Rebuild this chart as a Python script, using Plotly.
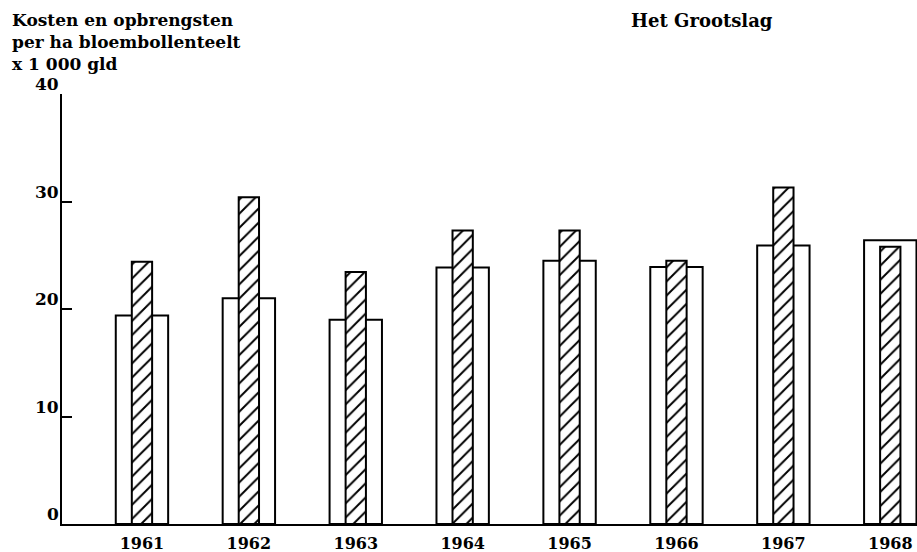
import plotly.graph_objects as go

years = ["1961", "1962", "1963", "1964", "1965", "1966", "1967", "1968"]
kosten = [19.4, 21.0, 19.0, 23.85, 24.5, 23.9, 25.9, 26.4]
opbrengsten = [24.4, 30.4, 23.45, 27.3, 27.3, 24.5, 31.3, 25.8]
y_ticks = [0, 10, 20, 30, 40]

FONT = "DejaVu Serif"
W, H = 917, 552
ML, MR, MT, MB = 62, 0, 94, 28

fig = go.Figure()
fig.add_trace(go.Bar(
    x=years, y=kosten, width=0.49, name="Kosten",
    marker=dict(color="white", line=dict(color="black", width=2)),
))
fig.add_trace(go.Bar(
    x=years, y=opbrengsten, width=0.19, name="Opbrengsten",
    marker=dict(color="white", line=dict(color="black", width=2),
                pattern=dict(shape="/", fgcolor="black", bgcolor="white",
                             fgopacity=1, size=10, solidity=0.2)),
))

for v in y_ticks:
    fig.add_annotation(
        x=0, xref="paper", y=v, yref="y", text=f"<b>{v}</b>",
        xanchor="right", yanchor="bottom", xshift=-1, yshift=-2,
        showarrow=False, font=dict(family=FONT, size=17, color="black"),
    )

plot_h = H - MT - MB
plot_w = W - ML - MR
def px_to_paper_x(px):
    return (px - ML) / plot_w
def px_to_paper_y(py):
    return (H - MB - py) / plot_h

fig.add_annotation(
    x=px_to_paper_x(10), xref="paper", xanchor="left",
    y=px_to_paper_y(8), yref="paper", yanchor="top",
    text="<b>Kosten en opbrengsten<br>per ha bloembollenteelt<br>x 1 000 gld</b>",
    align="left", showarrow=False,
    font=dict(family=FONT, size=17, color="black"),
)
fig.add_annotation(
    x=px_to_paper_x(629), xref="paper", xanchor="left",
    y=px_to_paper_y(8), yref="paper", yanchor="top",
    text="<b>Het Grootslag</b>", showarrow=False,
    font=dict(family=FONT, size=18, color="black"),
)

fig.update_layout(
    width=W, height=H,
    margin=dict(l=ML, r=MR, t=MT, b=MB),
    paper_bgcolor="white", plot_bgcolor="white",
    barmode="overlay", showlegend=False,
    font=dict(family=FONT, size=16, color="black"),
    xaxis=dict(type="category", range=[-0.748, 7.25], showline=True,
               linecolor="black", linewidth=2, ticks="", showgrid=False,
               ticklabelstandoff=4,
               tickfont=dict(family=FONT, size=16, color="black", weight="bold")),
    yaxis=dict(range=[0, 40], showline=True, linecolor="black", linewidth=2,
               ticks="inside", ticklen=10, tickwidth=2, tickcolor="black",
               tickvals=y_ticks, showticklabels=False, showgrid=False,
               zeroline=False),
)

fig.write_html("out.html", config={"displayModeBar": False},
               post_script="document.body.style.margin='0';document.body.style.overflow='hidden';")
